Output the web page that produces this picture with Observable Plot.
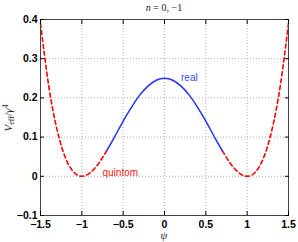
<!DOCTYPE html>
<html><head><meta charset="utf-8">
<script src="https://cdn.jsdelivr.net/npm/d3@7"></script>
<script src="https://cdn.jsdelivr.net/npm/@observablehq/plot@0.6"></script>
<style>body{margin:0;background:#fff}</style>
</head><body><div id="chart"></div>
<script>
// quintom branch, left part (red dashed)
const psiLeft = [-1.5, -1.4, -1.3, -1.2, -1.1, -1.0, -0.9, -0.8, -0.7];
const vLeft   = [0.39, 0.23, 0.119, 0.048, 0.011, 0.0, 0.009, 0.032, 0.065];
// real branch (blue solid)
const psiReal = [-0.7, -0.6, -0.5, -0.4, -0.3, -0.2, -0.1, 0, 0.1, 0.2, 0.3, 0.4, 0.5, 0.6, 0.7];
const vReal   = [0.065, 0.102, 0.141, 0.176, 0.207, 0.230, 0.245, 0.25, 0.245, 0.230, 0.207, 0.176, 0.141, 0.102, 0.065];
// quintom branch, right part (red dashed)
const psiRight = [0.7, 0.8, 0.9, 1.0, 1.1, 1.2, 1.3, 1.4, 1.5];
const vRight   = [0.065, 0.032, 0.009, 0.0, 0.011, 0.048, 0.119, 0.23, 0.39];

const xTicks = [-1.5, -1, -0.5, 0, 0.5, 1, 1.5];
const yTicks = [-0.1, 0, 0.1, 0.2, 0.3, 0.4];

const labelText = ["real", "quintom"];
const labelX = [0.2, -0.75];
const labelY = [0.251, 0.009];
const labelColor = ["#3a4cff", "#ff2020"];

const toRows = (xs, ys) => xs.map((x, i) => ({psi: x, v: ys[i]}));
const left = toRows(psiLeft, vLeft);
const real = toRows(psiReal, vReal);
const right = toRows(psiRight, vRight);
const labels = labelText.map((t, i) => ({t, x: labelX[i], y: labelY[i], c: labelColor[i]}));
const fmt = d => (d < 0 ? "−" : "") + String(Math.abs(+d.toFixed(2)));

const chart = Plot.plot({
  width: 298, height: 242,
  marginLeft: 40, marginRight: 10, marginTop: 19, marginBottom: 27,
  x: {domain: [-1.5, 1.5]},
  y: {domain: [-0.1, 0.4]},
  style: {fontFamily: "'Liberation Sans', Arial, sans-serif", fontSize: "10.5px", fontWeight: "bold", color: "#000", background: "#fff"},
  marks: [
    Plot.gridX(xTicks, {stroke: "#999", strokeOpacity: 0.8, strokeDasharray: "1,2"}),
    Plot.gridY(yTicks, {stroke: "#999", strokeOpacity: 0.8, strokeDasharray: "1,2"}),
    Plot.line(left, {x: "psi", y: "v", stroke: "#ff0000", strokeWidth: 1.6, strokeDasharray: "4,3", curve: "natural"}),
    Plot.line(right, {x: "psi", y: "v", stroke: "#ff0000", strokeWidth: 1.6, strokeDasharray: "4,3", curve: "natural"}),
    Plot.line(real, {x: "psi", y: "v", stroke: "#2233ff", strokeWidth: 1.5, curve: "natural"}),
    Plot.text(labels, {x: "x", y: "y", text: "t", fill: "c", textAnchor: "start", fontWeight: "normal", fontSize: 10}),
    Plot.frame({stroke: "#444"}),
    Plot.axisX(xTicks, {anchor: "bottom", tickSize: -4, tickPadding: 9, label: null, tickFormat: fmt}),
    Plot.axisX(xTicks, {anchor: "top", tickSize: -4, tickFormat: () => "", label: null}),
    Plot.axisY(yTicks, {anchor: "left", tickSize: -4, tickPadding: 7, label: null, tickFormat: fmt}),
    Plot.axisY(yTicks, {anchor: "right", tickSize: -4, tickFormat: () => "", label: null})
  ]
});
document.getElementById("chart").appendChild(chart);

const svg = d3.select(chart);
const serif = "'Liberation Serif', 'DejaVu Serif', serif";
// title
const t = svg.append("text").attr("x", 164).attr("y", 11).attr("text-anchor", "middle")
  .attr("font-family", serif).attr("font-size", 10).attr("fill", "#222").attr("font-weight", "normal");
t.append("tspan").attr("font-style", "italic").text("n");
t.append("tspan").text(" = 0, −1");
// y label
const yl = svg.append("text").attr("transform", "translate(12,118) rotate(-90)").attr("text-anchor", "middle")
  .attr("font-family", serif).attr("font-size", 11).attr("fill", "#222").attr("font-weight", "normal");
yl.append("tspan").attr("font-style", "italic").text("V");
yl.append("tspan").attr("font-size", 8).attr("dy", 2).text("eff");
yl.append("tspan").attr("dy", -2).text("/");
yl.append("tspan").attr("font-style", "italic").text("γ");
yl.append("tspan").attr("font-size", 8).attr("dy", -4).text("4");
// x label
svg.append("text").attr("x", 164).attr("y", 239).attr("text-anchor", "middle")
  .attr("font-family", serif).attr("font-size", 11).attr("font-style", "italic").attr("fill", "#222")
  .attr("font-weight", "normal").text("ψ");
</script>
</body></html>
